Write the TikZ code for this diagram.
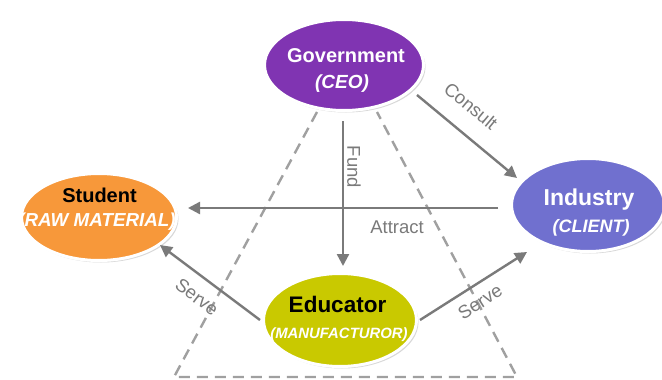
\documentclass[tikz,border=0pt]{standalone}
\usepackage{fontspec}
\setmainfont{Liberation Sans}
\usetikzlibrary{shapes.geometric,arrows.meta,shadows,calc}
\definecolor{govc}{HTML}{8034B2}
\definecolor{stuc}{HTML}{F7983A}
\definecolor{indc}{HTML}{7070CF}
\definecolor{educ}{HTML}{C9C900}
\definecolor{arrc}{HTML}{7A7A7A}
\definecolor{dashc}{HTML}{A0A0A0}
\begin{document}
\begin{tikzpicture}[x=1pt,y=-1pt,
  blob/.style={ellipse, draw=white, line width=3pt, inner sep=0pt,
    drop shadow={opacity=0.3,shadow xshift=2pt,shadow yshift=-2pt}},
  arr/.style={draw=arrc, line width=2.4pt, -{Triangle[length=12pt,width=12pt]}},
  dsh/.style={draw=dashc, line width=2.4pt, dash pattern=on 11pt off 7pt},
  lbl/.style={text=arrc, font=\fontsize{18.5}{20}\selectfont, inner sep=0pt},
  ttl/.style={anchor=base, inner sep=0pt, font=\fontsize{#1}{#1}\selectfont\bfseries},
  sub/.style={anchor=base, inner sep=0pt, text=white, font=\fontsize{#1}{#1}\selectfont\bfseries\itshape}]
\fill[white] (0,0) rectangle (662,380);
\useasboundingbox (0,0) rectangle (662,380);
% dashed trapezoid
\coordinate (tl) at (317,112);
\coordinate (tr) at (377,112);
\coordinate (bl) at (174,377);
\coordinate (br) at (517,377);
\draw[dsh] (tl) -- (bl) -- (br) -- (tr);
% ellipses
\node[blob, fill=govc, minimum width=159pt, minimum height=91pt] (gov) at (344,65) {};
\node[blob, fill=stuc, minimum width=155pt, minimum height=87pt] (stu) at (99,217) {};
\node[blob, fill=indc, minimum width=153pt, minimum height=93pt] (ind) at (588,205) {};
\node[blob, fill=educ, minimum width=153pt, minimum height=93pt] (edu) at (340,320) {};
% texts
\node[ttl=20, text=white] (govt) at ($(gov.center)+(2,-3)$) {Government};
\node[sub=19] (govs) at ($(gov.center)+(-2,23)$) {(CEO)};
\node[ttl=20, text=black] (stut) at ($(stu.center)+(0.5,-15)$) {Student};
\node[sub=18.8] (stus) at ($(stu.center)+(-2,9)$) {(RAW MATERIAL)};
\node[ttl=23, text=white] (indt) at ($(ind.center)+(1,0)$) {Industry};
\node[sub=18] (inds) at ($(ind.center)+(3,27)$) {(CLIENT)};
\node[ttl=22.5, text=black] (edut) at ($(edu.center)+(-2.5,-8)$) {Educator};
\node[sub=14.9] (edus) at ($(edu.center)+(-1,18)$) {(MANUFACTUROR)};
% connectors
\draw[arr, shorten <=9pt, shorten >=6pt] ($(gov.south)+(-1,0)$) -- ($(gov.south |- edu.north)+(-1,0)$);
\draw[arr] ($(gov.center)+(73,30)$) -- ($(ind.center)+(-71,-27)$);
\draw[arr] ($(ind.center)+(-90,3)$) -- ($(stu.center)+(89,-9)$);
\draw[arr] ($(edu.center)+(-80,0)$) -- ($(stu.center)+(61,28)$);
\draw[arr] ($(edu.center)+(80,0)$) -- ($(ind.center)+(-61,47)$);
% labels
\node[lbl, rotate=-39.7] (lcons) at (471,106) {Consult};
\node[lbl, rotate=-90] (lfund) at (354,167) {Fund};
\node[lbl] (lattr) at (397,227) {Attract};
\node[lbl, rotate=-37] (lserl) at (197,297) {Serve};
\node[lbl, rotate=32.5] (lserr) at (480,302) {Serve};
\end{tikzpicture}
\end{document}
